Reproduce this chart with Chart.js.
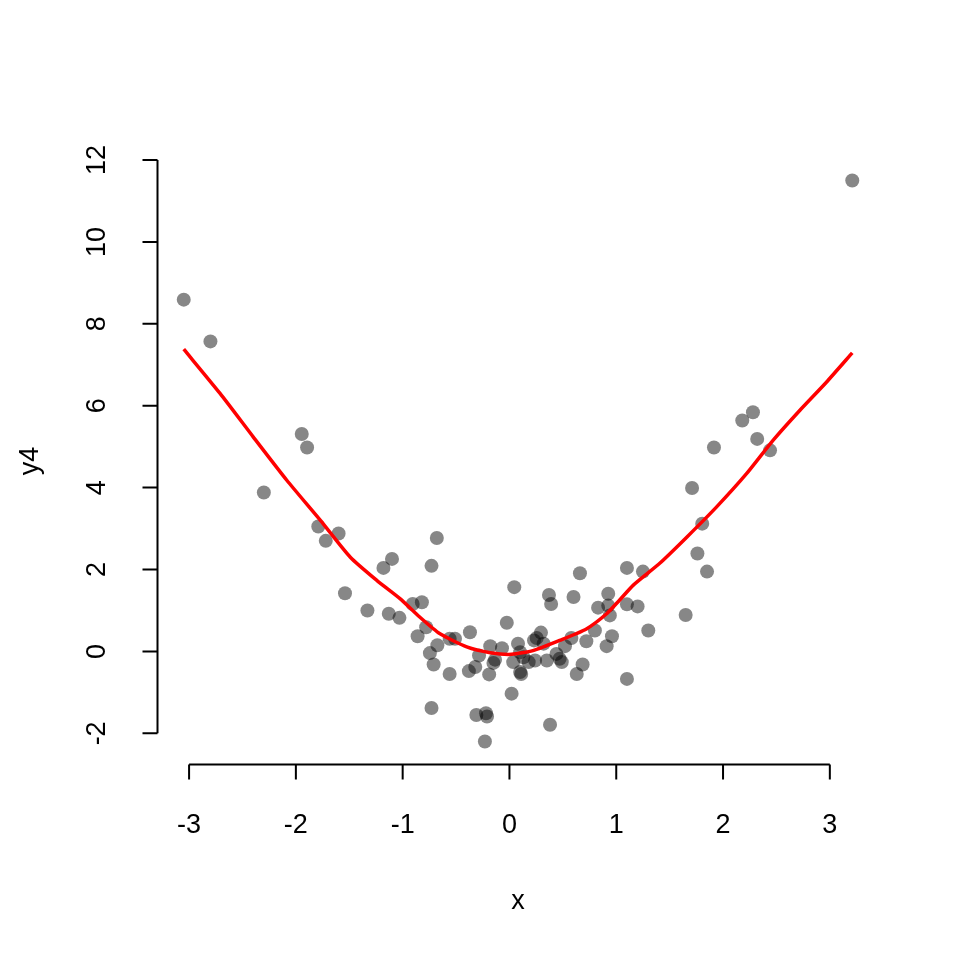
<!DOCTYPE html>
<html>
<head>
<meta charset="utf-8">
<script src="https://cdn.jsdelivr.net/npm/chart.js@4"></script>
<style>
  html, body { margin: 0; padding: 0; background: #fff; }
  #wrap { width: 960px; height: 960px; }
</style>
</head>
<body>
<div id="wrap"><canvas id="c" width="960" height="960"></canvas></div>
<script>
// scatter values
const xVals = [-3.05, -2.80, -2.30, -1.945, -1.895, -1.79, -1.72, -1.60, -1.54, -1.33,
  -1.18, -1.13, -1.10, -1.03, -0.906, -0.86, -0.82, -0.78, -0.745, -0.73,
  -0.71, -0.73, -0.68, -0.675, -0.56, -0.51, -0.56, -0.37, -0.38, -0.32,
  -0.285, -0.31, -0.22, -0.21, -0.23, -0.19, -0.18, -0.15, -0.135, -0.07,
  -0.025, 0.02, 0.035, 0.045, 0.08, 0.10, 0.10, 0.11, 0.13, 0.18,
  0.23, 0.24, 0.255, 0.295, 0.32, 0.35, 0.37, 0.39, 0.38, 0.44,
  0.47, 0.49, 0.52, 0.58, 0.60, 0.63, 0.66, 0.685, 0.72, 0.80,
  0.83, 0.91, 0.925, 0.925, 0.94, 0.96, 1.10, 1.10, 1.10, 1.20,
  1.25, 1.30, 1.65, 1.71, 1.76, 1.805, 1.85, 1.915, 2.18, 2.28,
  2.32, 2.44, 3.21];
const yVals = [8.59, 7.57, 3.88, 5.31, 4.98, 3.05, 2.70, 2.88, 1.42, 1.00,
  2.04, 0.92, 2.26, 0.82, 1.16, 0.37, 1.20, 0.59, -0.04, 2.09,
  -0.32, -1.38, 2.77, 0.15, 0.31, 0.31, -0.55, 0.47, -0.48, -0.38,
  -0.10, -1.55, -1.51, -1.59, -2.20, -0.56, 0.13, -0.28, -0.20, 0.08,
  0.70, -1.03, -0.26, 1.57, 0.19, -0.02, -0.50, -0.55, -0.14, -0.26,
  0.27, -0.22, 0.33, 0.46, 0.19, -0.22, 1.38, 1.16, -1.79, -0.06,
  -0.18, -0.26, 0.13, 0.33, 1.33, -0.55, 1.91, -0.32, 0.25, 0.51,
  1.07, 0.13, 1.41, 1.12, 0.88, 0.37, 2.04, 1.15, -0.67, 1.10,
  1.95, 0.51, 0.89, 3.99, 2.39, 3.12, 1.95, 4.98, 5.64, 5.84,
  5.19, 4.91, 11.5];

// smooth fit (red line)
const fitX = [-3.05, -2.71, -2.40, -2.085, -1.77, -1.49, -1.24, -1.025, -0.84, -0.65,
  -0.40, -0.18, 0.02, 0.22, 0.47, 0.72, 0.91, 1.03, 1.16, 1.41,
  1.66, 1.94, 2.22, 2.47, 2.72, 2.97, 3.21];
const fitY = [7.38, 6.30, 5.24, 4.18, 3.20, 2.30, 1.73, 1.29, 0.84, 0.43,
  0.11, -0.03, -0.07, 0.02, 0.27, 0.55, 0.92, 1.25, 1.62, 2.16,
  2.79, 3.53, 4.34, 5.16, 5.89, 6.58, 7.29];

const xTicks = [-3, -2, -1, 0, 1, 2, 3];
const yTicks = [-2, 0, 2, 4, 6, 8, 10, 12];
const xTitle = 'x';
const yTitle = 'y4';

// R-style 4% padding round the data range
const pad = (arr) => {
  const lo = Math.min(...arr), hi = Math.max(...arr);
  const d = (hi - lo) * 0.04;
  return [lo - d, hi + d];
};
const [xMin, xMax] = pad(xVals);
const [yMin, yMax] = pad(yVals);

const FONT = '"Liberation Sans", Arial, Helvetica, sans-serif';

// axes drawn base-graphics style, only over the tick range
const rAxes = {
  id: 'rAxes',
  afterDraw(chart) {
    const ctx = chart.ctx;
    const xs = chart.scales.x, ys = chart.scales.y;
    const area = chart.chartArea;
    const axY = Math.round(area.bottom) + 0.5;
    const axX = Math.round(area.left) + 0.5;
    ctx.save();
    ctx.strokeStyle = '#000';
    ctx.lineWidth = 2;
    ctx.fillStyle = '#000';
    ctx.font = '27px ' + FONT;

    // x axis
    ctx.beginPath();
    ctx.moveTo(xs.getPixelForValue(xTicks[0]), axY);
    ctx.lineTo(xs.getPixelForValue(xTicks[xTicks.length - 1]), axY);
    xTicks.forEach(t => {
      const px = xs.getPixelForValue(t);
      ctx.moveTo(px, axY);
      ctx.lineTo(px, axY + 15);
    });
    ctx.stroke();
    ctx.textAlign = 'center';
    ctx.textBaseline = 'middle';
    xTicks.forEach(t => {
      ctx.fillText(String(t), xs.getPixelForValue(t), axY + 61);
    });
    ctx.fillText(xTitle, (area.left + area.right) / 2, axY + 137);

    // y axis
    ctx.beginPath();
    ctx.moveTo(axX, ys.getPixelForValue(yTicks[0]));
    ctx.lineTo(axX, ys.getPixelForValue(yTicks[yTicks.length - 1]));
    yTicks.forEach(t => {
      const py = ys.getPixelForValue(t);
      ctx.moveTo(axX, py);
      ctx.lineTo(axX - 15, py);
    });
    ctx.stroke();
    yTicks.forEach(t => {
      ctx.save();
      ctx.translate(axX - 60, ys.getPixelForValue(t));
      ctx.rotate(-Math.PI / 2);
      ctx.fillText(String(t), 0, 0);
      ctx.restore();
    });
    ctx.save();
    ctx.translate(axX - 127, (area.top + area.bottom) / 2);
    ctx.rotate(-Math.PI / 2);
    ctx.fillText(yTitle, 0, 0);
    ctx.restore();

    ctx.restore();
  }
};

new Chart(document.getElementById('c'), {
  type: 'scatter',
  data: {
    datasets: [
      {
        label: 'fit',
        data: fitX.map((x, i) => ({ x: x, y: fitY[i] })),
        showLine: true,
        borderColor: '#ff0000',
        borderWidth: 3.5,
        pointRadius: 0,
        tension: 0.2,
        order: 0
      },
      {
        label: 'y4',
        data: xVals.map((x, i) => ({ x: x, y: yVals[i] })),
        backgroundColor: 'rgba(0,0,0,0.47)',
        borderWidth: 0,
        pointRadius: 7,
        order: 1
      }
    ]
  },
  options: {
    responsive: false,
    animation: false,
    devicePixelRatio: 1,
    layout: { padding: { left: 157, right: 81, top: 158, bottom: 196 } },
    plugins: { legend: { display: false }, tooltip: { enabled: false } },
    scales: {
      x: { type: 'linear', min: xMin, max: xMax, display: false },
      y: { type: 'linear', min: yMin, max: yMax, display: false }
    }
  },
  plugins: [rAxes]
});
</script>
</body>
</html>
